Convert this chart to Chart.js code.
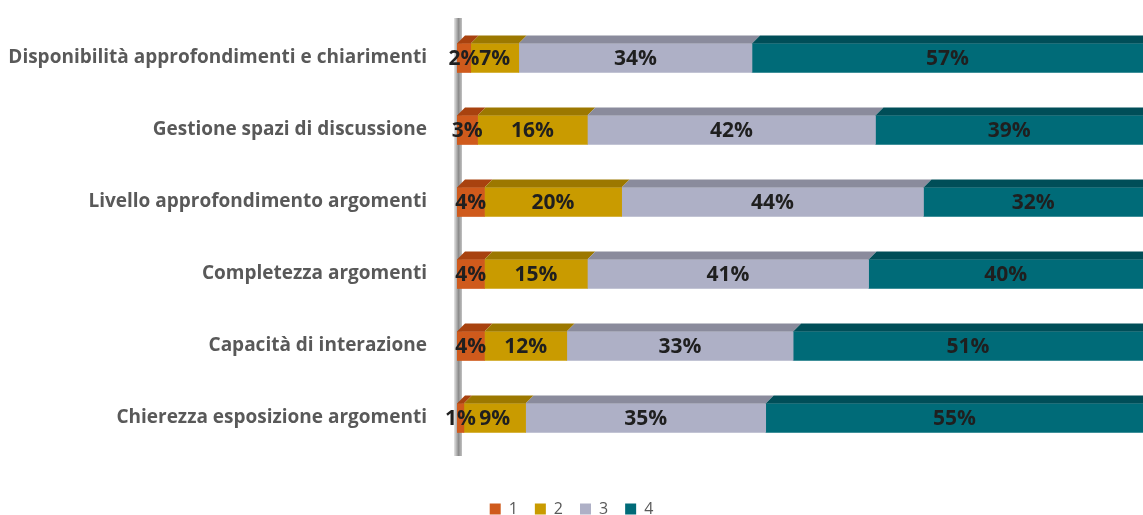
<!DOCTYPE html>
<html lang="it">
<head>
<meta charset="UTF-8">
<title>Valutazione</title>
<script src="https://cdn.jsdelivr.net/npm/chart.js"></script>
<style>
  * { margin: 0; padding: 0; box-sizing: border-box; }
  body { background: #ffffff; width: 1143px; height: 515px; overflow: hidden; }
  .chart-container { position: relative; width: 1143px; height: 515px; }
</style>
</head>
<body>
<div class="chart-container">
  <canvas id="voteChart"></canvas>
</div>
<script>
const categories = [
  'Disponibilità approfondimenti e chiarimenti',
  'Gestione spazi di discussione',
  'Livello approfondimento argomenti',
  'Completezza argomenti',
  'Capacità di interazione',
  'Chierezza esposizione argomenti'
];
const seriesNames = ['1', '2', '3', '4'];
const score1 = [2, 3, 4, 4, 4, 1];
const score2 = [7, 16, 20, 15, 12, 9];
const score3 = [34, 42, 44, 41, 33, 35];
const score4 = [57, 39, 32, 40, 51, 55];

const frontColors = ['#cf5a1c', '#c99b00', '#aeb0c6', '#006b78'];
const topColors = ['#a8420f', '#9c7800', '#8a8b9c', '#004e58'];

const labelFont = '"Open Sans", "DejaVu Sans", sans-serif';

// top face of each segment + axis post + value labels
const bar3d = {
  id: 'bar3d',
  beforeDatasetsDraw(chart) {
    const c = chart.ctx;
    const area = chart.chartArea;
    const g = c.createLinearGradient(area.left - 3, 0, area.left + 6, 0);
    g.addColorStop(0, '#e6e6e6');
    g.addColorStop(0.5, '#8c8c8c');
    g.addColorStop(1, '#d0d0d0');
    c.save();
    c.fillStyle = g;
    c.fillRect(area.left - 3, area.top - 4, 8, area.bottom - area.top + 6);
    c.restore();
  },
  afterDatasetsDraw(chart) {
    const c = chart.ctx;
    const d = 8, h = 8;
    c.save();
    chart.data.datasets.forEach((ds, i) => {
      chart.getDatasetMeta(i).data.forEach(el => {
        const top = el.y - el.height / 2;
        c.fillStyle = topColors[i];
        c.beginPath();
        c.moveTo(el.base, top);
        c.lineTo(el.x, top);
        c.lineTo(el.x + d, top - h);
        c.lineTo(el.base + d, top - h);
        c.closePath();
        c.fill();
      });
    });
    c.font = 'bold 21px ' + labelFont;
    c.fillStyle = '#1f1f1f';
    c.textAlign = 'center';
    c.textBaseline = 'middle';
    chart.data.datasets.forEach((ds, i) => {
      chart.getDatasetMeta(i).data.forEach((el, j) => {
        c.fillText(ds.data[j] + '%', (el.base + el.x) / 2, el.y + 1);
      });
    });
    c.restore();
  }
};

const ctx = document.getElementById('voteChart').getContext('2d');
new Chart(ctx, {
  type: 'bar',
  data: {
    labels: categories,
    datasets: [score1, score2, score3, score4].map((vals, i) => ({
      label: seriesNames[i],
      data: vals,
      backgroundColor: frontColors[i],
      borderWidth: 0,
      barThickness: 29
    }))
  },
  options: {
    indexAxis: 'y',
    responsive: true,
    maintainAspectRatio: false,
    animation: false,
    layout: { padding: { top: 22, right: 0, left: 0, bottom: -12 } },
    scales: {
      x: {
        stacked: true,
        min: 0,
        max: 100,
        grid: { display: false },
        border: { display: false },
        ticks: { display: false },
        afterFit(scale) { scale.height = 30; }
      },
      y: {
        stacked: true,
        grid: { display: false },
        border: { display: false },
        ticks: {
          color: '#595959',
          padding: 22,
          font: { family: labelFont, size: 19, weight: 'bold' }
        },
        afterFit(scale) {
          scale.width = 457;
          scale.paddingTop = 0;
          scale.paddingBottom = 0;
        }
      }
    },
    plugins: {
      tooltip: { enabled: false },
      legend: {
        position: 'bottom',
        labels: {
          color: '#595959',
          boxWidth: 11,
          boxHeight: 11,
          padding: 17,
          font: { family: labelFont, size: 16 }
        }
      }
    }
  },
  plugins: [bar3d]
});
</script>
</body>
</html>
